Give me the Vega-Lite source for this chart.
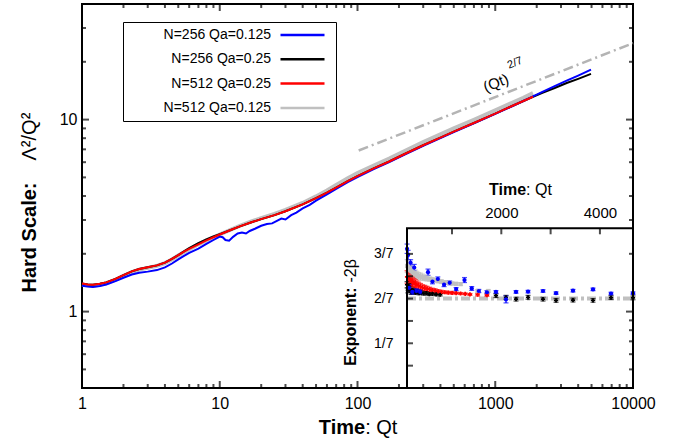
{
  "$schema": "https://vega.github.io/schema/vega-lite/v6.json",
  "width": 551,
  "height": 384,
  "autosize": {"type": "none"},
  "padding": {"left": 82, "top": 4, "right": 43, "bottom": 52},
  "background": "white",
  "config": {
    "font": "Liberation Sans",
    "view": {"stroke": "black", "strokeWidth": 2},
    "axis": {"domain": false, "grid": false, "ticks": false, "labelColor": "black", "titleColor": "black", "zindex": 1, "labelFlush": false, "labelOverlap": false, "labelBound": false}
  },
  "datasets": {
    "xmajor": [{"value": 1}, {"value": 10}, {"value": 100}, {"value": 1000}, {"value": 10000}],
    "xminor": [{"value": 2}, {"value": 3}, {"value": 4}, {"value": 5}, {"value": 6}, {"value": 7}, {"value": 8}, {"value": 9}, {"value": 20}, {"value": 30}, {"value": 40}, {"value": 50}, {"value": 60}, {"value": 70}, {"value": 80}, {"value": 90}, {"value": 200}, {"value": 300}, {"value": 400}, {"value": 500}, {"value": 600}, {"value": 700}, {"value": 800}, {"value": 900}, {"value": 2000}, {"value": 3000}, {"value": 4000}, {"value": 5000}, {"value": 6000}, {"value": 7000}, {"value": 8000}, {"value": 9000}],
    "ymajor": [{"value": 1}, {"value": 10}],
    "yminor": [{"value": 0.5}, {"value": 0.6}, {"value": 0.7}, {"value": 0.8}, {"value": 0.9}, {"value": 2}, {"value": 3}, {"value": 4}, {"value": 5}, {"value": 6}, {"value": 7}, {"value": 8}, {"value": 9}, {"value": 20}, {"value": 30}],
    "insety": [{"value": 0.0714}, {"value": 0.1429}, {"value": 0.2143}, {"value": 0.2857}, {"value": 0.3571}, {"value": 0.4286}],
    "insetx": [{"value": 1000}, {"value": 2000}, {"value": 3000}, {"value": 4000}],
    "main": [
      {"series": "N=512 Qa=0.125", "t": 1, "y": 1.38}, {"series": "N=512 Qa=0.125", "t": 1.1, "y": 1.37}, {"series": "N=512 Qa=0.125", "t": 1.2, "y": 1.365}, {"series": "N=512 Qa=0.125", "t": 1.35, "y": 1.38}, {"series": "N=512 Qa=0.125", "t": 1.5, "y": 1.405}, {"series": "N=512 Qa=0.125", "t": 1.75, "y": 1.465}, {"series": "N=512 Qa=0.125", "t": 2, "y": 1.535}, {"series": "N=512 Qa=0.125", "t": 2.3, "y": 1.605}, {"series": "N=512 Qa=0.125", "t": 2.6, "y": 1.655}, {"series": "N=512 Qa=0.125", "t": 3, "y": 1.69}, {"series": "N=512 Qa=0.125", "t": 3.5, "y": 1.73}, {"series": "N=512 Qa=0.125", "t": 4, "y": 1.79}, {"series": "N=512 Qa=0.125", "t": 4.5, "y": 1.87}, {"series": "N=512 Qa=0.125", "t": 5, "y": 1.96}, {"series": "N=512 Qa=0.125", "t": 5.5, "y": 2.04}, {"series": "N=512 Qa=0.125", "t": 6, "y": 2.11}, {"series": "N=512 Qa=0.125", "t": 7, "y": 2.24}, {"series": "N=512 Qa=0.125", "t": 8, "y": 2.35}, {"series": "N=512 Qa=0.125", "t": 9, "y": 2.44}, {"series": "N=512 Qa=0.125", "t": 10, "y": 2.52}, {"series": "N=512 Qa=0.125", "t": 12, "y": 2.67}, {"series": "N=512 Qa=0.125", "t": 14, "y": 2.8}, {"series": "N=512 Qa=0.125", "t": 17, "y": 2.95}, {"series": "N=512 Qa=0.125", "t": 20, "y": 3.07}, {"series": "N=512 Qa=0.125", "t": 25, "y": 3.23}, {"series": "N=512 Qa=0.125", "t": 30, "y": 3.39}, {"series": "N=512 Qa=0.125", "t": 40, "y": 3.68}, {"series": "N=512 Qa=0.125", "t": 50, "y": 3.98}, {"series": "N=512 Qa=0.125", "t": 60, "y": 4.27}, {"series": "N=512 Qa=0.125", "t": 70, "y": 4.56}, {"series": "N=512 Qa=0.125", "t": 85, "y": 4.95}, {"series": "N=512 Qa=0.125", "t": 100, "y": 5.26}, {"series": "N=512 Qa=0.125", "t": 130, "y": 5.74}, {"series": "N=512 Qa=0.125", "t": 170, "y": 6.26}, {"series": "N=512 Qa=0.125", "t": 220, "y": 6.86}, {"series": "N=512 Qa=0.125", "t": 300, "y": 7.63}, {"series": "N=512 Qa=0.125", "t": 400, "y": 8.37}, {"series": "N=512 Qa=0.125", "t": 500, "y": 9.0}, {"series": "N=512 Qa=0.125", "t": 700, "y": 9.98}, {"series": "N=512 Qa=0.125", "t": 1000, "y": 11.18}, {"series": "N=512 Qa=0.125", "t": 1300, "y": 12.17}, {"series": "N=512 Qa=0.125", "t": 1600, "y": 13.0}, {"series": "N=512 Qa=0.125", "t": 1880, "y": 13.74},

      {"series": "N=256 Qa=0.25", "t": 1, "y": 1.4}, {"series": "N=256 Qa=0.25", "t": 1.1, "y": 1.385}, {"series": "N=256 Qa=0.25", "t": 1.2, "y": 1.38}, {"series": "N=256 Qa=0.25", "t": 1.35, "y": 1.395}, {"series": "N=256 Qa=0.25", "t": 1.5, "y": 1.42}, {"series": "N=256 Qa=0.25", "t": 1.75, "y": 1.48}, {"series": "N=256 Qa=0.25", "t": 2, "y": 1.55}, {"series": "N=256 Qa=0.25", "t": 2.3, "y": 1.62}, {"series": "N=256 Qa=0.25", "t": 2.6, "y": 1.665}, {"series": "N=256 Qa=0.25", "t": 3, "y": 1.7}, {"series": "N=256 Qa=0.25", "t": 3.5, "y": 1.74}, {"series": "N=256 Qa=0.25", "t": 4, "y": 1.8}, {"series": "N=256 Qa=0.25", "t": 4.5, "y": 1.88}, {"series": "N=256 Qa=0.25", "t": 5, "y": 1.97}, {"series": "N=256 Qa=0.25", "t": 5.5, "y": 2.06}, {"series": "N=256 Qa=0.25", "t": 6, "y": 2.14}, {"series": "N=256 Qa=0.25", "t": 7, "y": 2.27}, {"series": "N=256 Qa=0.25", "t": 8, "y": 2.38}, {"series": "N=256 Qa=0.25", "t": 9, "y": 2.46}, {"series": "N=256 Qa=0.25", "t": 10, "y": 2.53}, {"series": "N=256 Qa=0.25", "t": 12, "y": 2.66}, {"series": "N=256 Qa=0.25", "t": 14, "y": 2.78}, {"series": "N=256 Qa=0.25", "t": 17, "y": 2.92}, {"series": "N=256 Qa=0.25", "t": 20, "y": 3.03}, {"series": "N=256 Qa=0.25", "t": 25, "y": 3.18}, {"series": "N=256 Qa=0.25", "t": 30, "y": 3.33}, {"series": "N=256 Qa=0.25", "t": 40, "y": 3.62}, {"series": "N=256 Qa=0.25", "t": 50, "y": 3.9}, {"series": "N=256 Qa=0.25", "t": 60, "y": 4.16}, {"series": "N=256 Qa=0.25", "t": 70, "y": 4.42}, {"series": "N=256 Qa=0.25", "t": 85, "y": 4.78}, {"series": "N=256 Qa=0.25", "t": 100, "y": 5.08}, {"series": "N=256 Qa=0.25", "t": 130, "y": 5.55}, {"series": "N=256 Qa=0.25", "t": 170, "y": 6.05}, {"series": "N=256 Qa=0.25", "t": 220, "y": 6.62}, {"series": "N=256 Qa=0.25", "t": 300, "y": 7.35}, {"series": "N=256 Qa=0.25", "t": 400, "y": 8.05}, {"series": "N=256 Qa=0.25", "t": 500, "y": 8.65}, {"series": "N=256 Qa=0.25", "t": 700, "y": 9.6}, {"series": "N=256 Qa=0.25", "t": 1000, "y": 10.75}, {"series": "N=256 Qa=0.25", "t": 1300, "y": 11.7}, {"series": "N=256 Qa=0.25", "t": 1600, "y": 12.5}, {"series": "N=256 Qa=0.25", "t": 1880, "y": 13.15}, {"series": "N=256 Qa=0.25", "t": 2200, "y": 13.8}, {"series": "N=256 Qa=0.25", "t": 2700, "y": 14.6}, {"series": "N=256 Qa=0.25", "t": 3300, "y": 15.5}, {"series": "N=256 Qa=0.25", "t": 4000, "y": 16.3}, {"series": "N=256 Qa=0.25", "t": 4955, "y": 17.3},

      {"series": "N=256 Qa=0.125", "t": 1, "y": 1.365}, {"series": "N=256 Qa=0.125", "t": 1.1, "y": 1.35}, {"series": "N=256 Qa=0.125", "t": 1.2, "y": 1.345}, {"series": "N=256 Qa=0.125", "t": 1.35, "y": 1.36}, {"series": "N=256 Qa=0.125", "t": 1.5, "y": 1.385}, {"series": "N=256 Qa=0.125", "t": 1.75, "y": 1.44}, {"series": "N=256 Qa=0.125", "t": 2, "y": 1.5}, {"series": "N=256 Qa=0.125", "t": 2.3, "y": 1.56}, {"series": "N=256 Qa=0.125", "t": 2.6, "y": 1.595}, {"series": "N=256 Qa=0.125", "t": 3, "y": 1.615}, {"series": "N=256 Qa=0.125", "t": 3.5, "y": 1.645}, {"series": "N=256 Qa=0.125", "t": 4, "y": 1.7}, {"series": "N=256 Qa=0.125", "t": 4.5, "y": 1.78}, {"series": "N=256 Qa=0.125", "t": 5, "y": 1.87}, {"series": "N=256 Qa=0.125", "t": 5.5, "y": 1.95}, {"series": "N=256 Qa=0.125", "t": 6, "y": 2.02}, {"series": "N=256 Qa=0.125", "t": 7, "y": 2.13}, {"series": "N=256 Qa=0.125", "t": 8, "y": 2.25}, {"series": "N=256 Qa=0.125", "t": 9, "y": 2.36}, {"series": "N=256 Qa=0.125", "t": 10, "y": 2.46}, {"series": "N=256 Qa=0.125", "t": 10.5, "y": 2.44}, {"series": "N=256 Qa=0.125", "t": 11, "y": 2.36}, {"series": "N=256 Qa=0.125", "t": 11.7, "y": 2.34}, {"series": "N=256 Qa=0.125", "t": 12.5, "y": 2.45}, {"series": "N=256 Qa=0.125", "t": 13.5, "y": 2.55}, {"series": "N=256 Qa=0.125", "t": 14.5, "y": 2.58}, {"series": "N=256 Qa=0.125", "t": 15.5, "y": 2.55}, {"series": "N=256 Qa=0.125", "t": 16.5, "y": 2.63}, {"series": "N=256 Qa=0.125", "t": 18, "y": 2.7}, {"series": "N=256 Qa=0.125", "t": 20, "y": 2.8}, {"series": "N=256 Qa=0.125", "t": 22, "y": 2.86}, {"series": "N=256 Qa=0.125", "t": 24, "y": 2.88}, {"series": "N=256 Qa=0.125", "t": 26, "y": 2.97}, {"series": "N=256 Qa=0.125", "t": 28, "y": 3.05}, {"series": "N=256 Qa=0.125", "t": 30, "y": 3.02}, {"series": "N=256 Qa=0.125", "t": 33, "y": 3.18}, {"series": "N=256 Qa=0.125", "t": 36, "y": 3.28}, {"series": "N=256 Qa=0.125", "t": 40, "y": 3.45}, {"series": "N=256 Qa=0.125", "t": 45, "y": 3.6}, {"series": "N=256 Qa=0.125", "t": 50, "y": 3.78}, {"series": "N=256 Qa=0.125", "t": 60, "y": 4.08}, {"series": "N=256 Qa=0.125", "t": 70, "y": 4.36}, {"series": "N=256 Qa=0.125", "t": 85, "y": 4.73}, {"series": "N=256 Qa=0.125", "t": 100, "y": 5.02}, {"series": "N=256 Qa=0.125", "t": 130, "y": 5.5}, {"series": "N=256 Qa=0.125", "t": 170, "y": 6.0}, {"series": "N=256 Qa=0.125", "t": 220, "y": 6.57}, {"series": "N=256 Qa=0.125", "t": 300, "y": 7.3}, {"series": "N=256 Qa=0.125", "t": 400, "y": 8.0}, {"series": "N=256 Qa=0.125", "t": 500, "y": 8.6}, {"series": "N=256 Qa=0.125", "t": 700, "y": 9.55}, {"series": "N=256 Qa=0.125", "t": 1000, "y": 10.7}, {"series": "N=256 Qa=0.125", "t": 1300, "y": 11.67}, {"series": "N=256 Qa=0.125", "t": 1600, "y": 12.5}, {"series": "N=256 Qa=0.125", "t": 1880, "y": 13.2}, {"series": "N=256 Qa=0.125", "t": 2200, "y": 13.95}, {"series": "N=256 Qa=0.125", "t": 2700, "y": 14.95}, {"series": "N=256 Qa=0.125", "t": 3300, "y": 15.95}, {"series": "N=256 Qa=0.125", "t": 4000, "y": 16.95}, {"series": "N=256 Qa=0.125", "t": 4955, "y": 18.2},

      {"series": "N=512 Qa=0.25", "t": 1, "y": 1.4}, {"series": "N=512 Qa=0.25", "t": 1.1, "y": 1.385}, {"series": "N=512 Qa=0.25", "t": 1.2, "y": 1.38}, {"series": "N=512 Qa=0.25", "t": 1.35, "y": 1.395}, {"series": "N=512 Qa=0.25", "t": 1.5, "y": 1.42}, {"series": "N=512 Qa=0.25", "t": 1.75, "y": 1.48}, {"series": "N=512 Qa=0.25", "t": 2, "y": 1.55}, {"series": "N=512 Qa=0.25", "t": 2.3, "y": 1.62}, {"series": "N=512 Qa=0.25", "t": 2.6, "y": 1.665}, {"series": "N=512 Qa=0.25", "t": 3, "y": 1.7}, {"series": "N=512 Qa=0.25", "t": 3.5, "y": 1.74}, {"series": "N=512 Qa=0.25", "t": 4, "y": 1.8}, {"series": "N=512 Qa=0.25", "t": 4.5, "y": 1.88}, {"series": "N=512 Qa=0.25", "t": 5, "y": 1.97}, {"series": "N=512 Qa=0.25", "t": 5.5, "y": 2.05}, {"series": "N=512 Qa=0.25", "t": 6, "y": 2.12}, {"series": "N=512 Qa=0.25", "t": 7, "y": 2.24}, {"series": "N=512 Qa=0.25", "t": 8, "y": 2.35}, {"series": "N=512 Qa=0.25", "t": 9, "y": 2.44}, {"series": "N=512 Qa=0.25", "t": 10, "y": 2.52}, {"series": "N=512 Qa=0.25", "t": 12, "y": 2.66}, {"series": "N=512 Qa=0.25", "t": 14, "y": 2.78}, {"series": "N=512 Qa=0.25", "t": 17, "y": 2.92}, {"series": "N=512 Qa=0.25", "t": 20, "y": 3.03}, {"series": "N=512 Qa=0.25", "t": 25, "y": 3.18}, {"series": "N=512 Qa=0.25", "t": 30, "y": 3.33}, {"series": "N=512 Qa=0.25", "t": 40, "y": 3.62}, {"series": "N=512 Qa=0.25", "t": 50, "y": 3.9}, {"series": "N=512 Qa=0.25", "t": 60, "y": 4.16}, {"series": "N=512 Qa=0.25", "t": 70, "y": 4.42}, {"series": "N=512 Qa=0.25", "t": 85, "y": 4.78}, {"series": "N=512 Qa=0.25", "t": 100, "y": 5.08}, {"series": "N=512 Qa=0.25", "t": 130, "y": 5.55}, {"series": "N=512 Qa=0.25", "t": 170, "y": 6.05}, {"series": "N=512 Qa=0.25", "t": 220, "y": 6.62}, {"series": "N=512 Qa=0.25", "t": 300, "y": 7.35}, {"series": "N=512 Qa=0.25", "t": 400, "y": 8.05}, {"series": "N=512 Qa=0.25", "t": 500, "y": 8.65}, {"series": "N=512 Qa=0.25", "t": 700, "y": 9.6}, {"series": "N=512 Qa=0.25", "t": 1000, "y": 10.75}, {"series": "N=512 Qa=0.25", "t": 1300, "y": 11.7}, {"series": "N=512 Qa=0.25", "t": 1600, "y": 12.5}, {"series": "N=512 Qa=0.25", "t": 1880, "y": 13.15}
    ],
    "inset": [
      {"series": "N=512 Qa=0.125", "t": 229, "v": 0.39, "lo": 0.37, "hi": 0.41}, {"series": "N=512 Qa=0.125", "t": 233, "v": 0.386, "lo": 0.367, "hi": 0.405}, {"series": "N=512 Qa=0.125", "t": 237, "v": 0.382, "lo": 0.364, "hi": 0.4}, {"series": "N=512 Qa=0.125", "t": 241, "v": 0.378, "lo": 0.361, "hi": 0.395}, {"series": "N=512 Qa=0.125", "t": 246, "v": 0.374, "lo": 0.358, "hi": 0.39}, {"series": "N=512 Qa=0.125", "t": 251, "v": 0.37, "lo": 0.355, "hi": 0.385}, {"series": "N=512 Qa=0.125", "t": 257, "v": 0.367, "lo": 0.353, "hi": 0.381}, {"series": "N=512 Qa=0.125", "t": 263, "v": 0.364, "lo": 0.351, "hi": 0.377}, {"series": "N=512 Qa=0.125", "t": 270, "v": 0.361, "lo": 0.349, "hi": 0.373}, {"series": "N=512 Qa=0.125", "t": 278, "v": 0.358, "lo": 0.347, "hi": 0.369}, {"series": "N=512 Qa=0.125", "t": 287, "v": 0.356, "lo": 0.345, "hi": 0.367}, {"series": "N=512 Qa=0.125", "t": 297, "v": 0.354, "lo": 0.344, "hi": 0.364}, {"series": "N=512 Qa=0.125", "t": 308, "v": 0.352, "lo": 0.343, "hi": 0.361}, {"series": "N=512 Qa=0.125", "t": 320, "v": 0.35, "lo": 0.342, "hi": 0.358}, {"series": "N=512 Qa=0.125", "t": 334, "v": 0.348, "lo": 0.341, "hi": 0.355}, {"series": "N=512 Qa=0.125", "t": 349, "v": 0.346, "lo": 0.339, "hi": 0.353}, {"series": "N=512 Qa=0.125", "t": 366, "v": 0.344, "lo": 0.338, "hi": 0.35}, {"series": "N=512 Qa=0.125", "t": 385, "v": 0.342, "lo": 0.336, "hi": 0.348}, {"series": "N=512 Qa=0.125", "t": 406, "v": 0.34, "lo": 0.334, "hi": 0.346}, {"series": "N=512 Qa=0.125", "t": 430, "v": 0.338, "lo": 0.333, "hi": 0.343}, {"series": "N=512 Qa=0.125", "t": 456, "v": 0.336, "lo": 0.331, "hi": 0.341}, {"series": "N=512 Qa=0.125", "t": 486, "v": 0.334, "lo": 0.33, "hi": 0.338}, {"series": "N=512 Qa=0.125", "t": 520, "v": 0.333, "lo": 0.329, "hi": 0.337}, {"series": "N=512 Qa=0.125", "t": 560, "v": 0.332, "lo": 0.328, "hi": 0.336}, {"series": "N=512 Qa=0.125", "t": 745, "v": 0.31, "lo": 0.306, "hi": 0.314}, {"series": "N=512 Qa=0.125", "t": 890, "v": 0.31, "lo": 0.306, "hi": 0.314},

      {"series": "N=512 Qa=0.25", "t": 229, "v": 0.355, "lo": 0.335, "hi": 0.375}, {"series": "N=512 Qa=0.25", "t": 233, "v": 0.352, "lo": 0.333, "hi": 0.371}, {"series": "N=512 Qa=0.25", "t": 237, "v": 0.348, "lo": 0.33, "hi": 0.366}, {"series": "N=512 Qa=0.25", "t": 241, "v": 0.345, "lo": 0.328, "hi": 0.362}, {"series": "N=512 Qa=0.25", "t": 246, "v": 0.342, "lo": 0.326, "hi": 0.358}, {"series": "N=512 Qa=0.25", "t": 251, "v": 0.339, "lo": 0.324, "hi": 0.354}, {"series": "N=512 Qa=0.25", "t": 257, "v": 0.336, "lo": 0.322, "hi": 0.35}, {"series": "N=512 Qa=0.25", "t": 263, "v": 0.333, "lo": 0.32, "hi": 0.346}, {"series": "N=512 Qa=0.25", "t": 270, "v": 0.33, "lo": 0.318, "hi": 0.342}, {"series": "N=512 Qa=0.25", "t": 278, "v": 0.327, "lo": 0.316, "hi": 0.338}, {"series": "N=512 Qa=0.25", "t": 287, "v": 0.324, "lo": 0.314, "hi": 0.334}, {"series": "N=512 Qa=0.25", "t": 297, "v": 0.321, "lo": 0.312, "hi": 0.33}, {"series": "N=512 Qa=0.25", "t": 308, "v": 0.319, "lo": 0.31, "hi": 0.328}, {"series": "N=512 Qa=0.25", "t": 320, "v": 0.317, "lo": 0.309, "hi": 0.325}, {"series": "N=512 Qa=0.25", "t": 334, "v": 0.315, "lo": 0.308, "hi": 0.322}, {"series": "N=512 Qa=0.25", "t": 349, "v": 0.313, "lo": 0.307, "hi": 0.319}, {"series": "N=512 Qa=0.25", "t": 366, "v": 0.311, "lo": 0.305, "hi": 0.317}, {"series": "N=512 Qa=0.25", "t": 385, "v": 0.309, "lo": 0.304, "hi": 0.314}, {"series": "N=512 Qa=0.25", "t": 406, "v": 0.307, "lo": 0.302, "hi": 0.312}, {"series": "N=512 Qa=0.25", "t": 430, "v": 0.306, "lo": 0.302, "hi": 0.31}, {"series": "N=512 Qa=0.25", "t": 456, "v": 0.305, "lo": 0.301, "hi": 0.309}, {"series": "N=512 Qa=0.25", "t": 486, "v": 0.304, "lo": 0.3, "hi": 0.308}, {"series": "N=512 Qa=0.25", "t": 520, "v": 0.303, "lo": 0.3, "hi": 0.306}, {"series": "N=512 Qa=0.25", "t": 560, "v": 0.302, "lo": 0.299, "hi": 0.305}, {"series": "N=512 Qa=0.25", "t": 605, "v": 0.301, "lo": 0.298, "hi": 0.304}, {"series": "N=512 Qa=0.25", "t": 655, "v": 0.299, "lo": 0.296, "hi": 0.302}, {"series": "N=512 Qa=0.25", "t": 745, "v": 0.298, "lo": 0.294, "hi": 0.302}, {"series": "N=512 Qa=0.25", "t": 870, "v": 0.297, "lo": 0.293, "hi": 0.301},

      {"series": "N=256 Qa=0.25", "t": 229, "v": 0.33, "lo": 0.32, "hi": 0.34}, {"series": "N=256 Qa=0.25", "t": 232, "v": 0.312, "lo": 0.304, "hi": 0.32}, {"series": "N=256 Qa=0.25", "t": 236, "v": 0.325, "lo": 0.316, "hi": 0.334}, {"series": "N=256 Qa=0.25", "t": 240, "v": 0.315, "lo": 0.307, "hi": 0.323}, {"series": "N=256 Qa=0.25", "t": 245, "v": 0.306, "lo": 0.299, "hi": 0.313}, {"series": "N=256 Qa=0.25", "t": 250, "v": 0.312, "lo": 0.305, "hi": 0.319}, {"series": "N=256 Qa=0.25", "t": 256, "v": 0.31, "lo": 0.303, "hi": 0.317}, {"series": "N=256 Qa=0.25", "t": 263, "v": 0.305, "lo": 0.299, "hi": 0.311}, {"series": "N=256 Qa=0.25", "t": 271, "v": 0.308, "lo": 0.302, "hi": 0.314}, {"series": "N=256 Qa=0.25", "t": 280, "v": 0.303, "lo": 0.298, "hi": 0.308}, {"series": "N=256 Qa=0.25", "t": 290, "v": 0.305, "lo": 0.3, "hi": 0.31}, {"series": "N=256 Qa=0.25", "t": 302, "v": 0.302, "lo": 0.297, "hi": 0.307}, {"series": "N=256 Qa=0.25", "t": 316, "v": 0.303, "lo": 0.298, "hi": 0.308}, {"series": "N=256 Qa=0.25", "t": 332, "v": 0.3, "lo": 0.296, "hi": 0.304}, {"series": "N=256 Qa=0.25", "t": 350, "v": 0.301, "lo": 0.297, "hi": 0.305}, {"series": "N=256 Qa=0.25", "t": 372, "v": 0.299, "lo": 0.295, "hi": 0.303}, {"series": "N=256 Qa=0.25", "t": 398, "v": 0.298, "lo": 0.294, "hi": 0.302}, {"series": "N=256 Qa=0.25", "t": 1012, "v": 0.295, "lo": 0.289, "hi": 0.301}, {"series": "N=256 Qa=0.25", "t": 1197, "v": 0.29, "lo": 0.284, "hi": 0.296}, {"series": "N=256 Qa=0.25", "t": 1415, "v": 0.284, "lo": 0.278, "hi": 0.29}, {"series": "N=256 Qa=0.25", "t": 1730, "v": 0.29, "lo": 0.284, "hi": 0.296}, {"series": "N=256 Qa=0.25", "t": 2222, "v": 0.284, "lo": 0.278, "hi": 0.29}, {"series": "N=256 Qa=0.25", "t": 2763, "v": 0.28, "lo": 0.274, "hi": 0.286}, {"series": "N=256 Qa=0.25", "t": 3667, "v": 0.281, "lo": 0.275, "hi": 0.287}, {"series": "N=256 Qa=0.25", "t": 5125, "v": 0.28, "lo": 0.274, "hi": 0.286}, {"series": "N=256 Qa=0.25", "t": 6925, "v": 0.289, "lo": 0.283, "hi": 0.295}, {"series": "N=256 Qa=0.25", "t": 10000, "v": 0.288, "lo": 0.282, "hi": 0.294},

      {"series": "N=256 Qa=0.125", "t": 229, "v": 0.445, "lo": 0.43, "hi": 0.46}, {"series": "N=256 Qa=0.125", "t": 233, "v": 0.425, "lo": 0.41, "hi": 0.44}, {"series": "N=256 Qa=0.125", "t": 237, "v": 0.32, "lo": 0.31, "hi": 0.33}, {"series": "N=256 Qa=0.125", "t": 243, "v": 0.4, "lo": 0.39, "hi": 0.41}, {"series": "N=256 Qa=0.125", "t": 250, "v": 0.307, "lo": 0.3, "hi": 0.314}, {"series": "N=256 Qa=0.125", "t": 258, "v": 0.385, "lo": 0.375, "hi": 0.395}, {"series": "N=256 Qa=0.125", "t": 268, "v": 0.31, "lo": 0.303, "hi": 0.317}, {"series": "N=256 Qa=0.125", "t": 285, "v": 0.307, "lo": 0.3, "hi": 0.314}, {"series": "N=256 Qa=0.125", "t": 325, "v": 0.37, "lo": 0.36, "hi": 0.38}, {"series": "N=256 Qa=0.125", "t": 350, "v": 0.34, "lo": 0.333, "hi": 0.347}, {"series": "N=256 Qa=0.125", "t": 383, "v": 0.348, "lo": 0.341, "hi": 0.355}, {"series": "N=256 Qa=0.125", "t": 425, "v": 0.33, "lo": 0.324, "hi": 0.336}, {"series": "N=256 Qa=0.125", "t": 467, "v": 0.336, "lo": 0.33, "hi": 0.342}, {"series": "N=256 Qa=0.125", "t": 520, "v": 0.316, "lo": 0.311, "hi": 0.321}, {"series": "N=256 Qa=0.125", "t": 598, "v": 0.345, "lo": 0.337, "hi": 0.353}, {"series": "N=256 Qa=0.125", "t": 675, "v": 0.318, "lo": 0.312, "hi": 0.324}, {"series": "N=256 Qa=0.125", "t": 760, "v": 0.31, "lo": 0.305, "hi": 0.315}, {"series": "N=256 Qa=0.125", "t": 870, "v": 0.306, "lo": 0.301, "hi": 0.311}, {"series": "N=256 Qa=0.125", "t": 1012, "v": 0.307, "lo": 0.303, "hi": 0.311}, {"series": "N=256 Qa=0.125", "t": 1197, "v": 0.283, "lo": 0.272, "hi": 0.294}, {"series": "N=256 Qa=0.125", "t": 1415, "v": 0.307, "lo": 0.303, "hi": 0.311}, {"series": "N=256 Qa=0.125", "t": 1730, "v": 0.308, "lo": 0.304, "hi": 0.312}, {"series": "N=256 Qa=0.125", "t": 2222, "v": 0.31, "lo": 0.306, "hi": 0.314}, {"series": "N=256 Qa=0.125", "t": 2763, "v": 0.303, "lo": 0.299, "hi": 0.307}, {"series": "N=256 Qa=0.125", "t": 3667, "v": 0.311, "lo": 0.307, "hi": 0.315}, {"series": "N=256 Qa=0.125", "t": 5125, "v": 0.315, "lo": 0.311, "hi": 0.319}, {"series": "N=256 Qa=0.125", "t": 6925, "v": 0.302, "lo": 0.298, "hi": 0.306}, {"series": "N=256 Qa=0.125", "t": 10000, "v": 0.303, "lo": 0.299, "hi": 0.307}
    ]
  },
  "resolve": {"scale": {"x": "independent", "y": "independent"}, "axis": {"x": "independent", "y": "independent"}},
  "layer": [
    {
      "data": {"name": "main"},
      "transform": [{"filter": {"field": "series", "equal": "N=512 Qa=0.125"}}],
      "mark": {"type": "line", "strokeWidth": 4},
      "encoding": {
        "x": {"field": "t", "type": "quantitative", "scale": {"type": "log", "domain": [1, 10000]},
          "axis": {"orient": "bottom", "values": [1, 10, 100, 1000, 10000], "format": "d", "labelFontSize": 16, "labelPadding": 7, "title": "Time", "titleFontSize": 20, "titleFontWeight": "bold", "titleAlign": "right", "titleX": 282.7, "titleY": 45, "titleBaseline": "alphabetic"}},
        "y": {"field": "y", "type": "quantitative", "scale": {"type": "log", "domain": [0.4, 40]},
          "axis": {"orient": "left", "values": [1, 10], "format": "d", "labelFontSize": 16, "labelPadding": 5, "title": "Hard Scale:", "titleFontSize": 20, "titleFontWeight": "bold", "titleAngle": 270, "titleAlign": "right", "titleBaseline": "middle", "titleX": -53, "titleY": 178}},
        "color": {"field": "series", "type": "nominal",
          "scale": {"domain": ["N=256 Qa=0.125", "N=256 Qa=0.25", "N=512 Qa=0.25", "N=512 Qa=0.125"], "range": ["#0000ff", "#000000", "#ff0000", "#c0c0c0"]},
          "legend": {"orient": "none", "legendX": 41, "legendY": 18, "title": null, "symbolType": "stroke", "symbolSize": 1936, "symbolStrokeWidth": 2.5, "symbolOffset": 150, "labelAlign": "right", "labelOffset": -55, "labelFontSize": 14, "labelColor": "black", "labelLimit": 300, "strokeColor": "black", "fillColor": "white", "padding": 6, "rowPadding": 10.3,
            "encode": {"symbols": {"update": {"stroke": {"scale": "color", "field": "value"}, "strokeWidth": {"value": 2.5}, "opacity": {"value": 1}, "y": {"value": 7}}}, "labels": {"update": {"y": {"value": 7}}}}}}
      }
    },
    {
      "data": {"name": "main"},
      "transform": [{"filter": {"field": "series", "equal": "N=256 Qa=0.25"}}],
      "mark": {"type": "line", "strokeWidth": 2},
      "encoding": {
        "x": {"field": "t", "type": "quantitative", "scale": {"type": "log", "domain": [1, 10000]},
          "axis": {"orient": "bottom", "labels": false, "title": ": Qt", "titleFontSize": 20, "titleFontWeight": "normal", "titleAlign": "left", "titleX": 282.7, "titleY": 45, "titleBaseline": "alphabetic"}},
        "y": {"field": "y", "type": "quantitative", "scale": {"type": "log", "domain": [0.4, 40]},
          "axis": {"orient": "left", "labels": false, "title": "Λ²/Q²", "titleFontSize": 20, "titleFontWeight": "normal", "titleAngle": 270, "titleAlign": "left", "titleBaseline": "middle", "titleX": -53, "titleY": 156}},
        "color": {"field": "series", "type": "nominal"}
      }
    },
    {
      "data": {"name": "main"},
      "transform": [{"filter": {"field": "series", "equal": "N=256 Qa=0.125"}}],
      "mark": {"type": "line", "strokeWidth": 2},
      "encoding": {
        "x": {"field": "t", "type": "quantitative", "scale": {"type": "log", "domain": [1, 10000]}, "axis": null},
        "y": {"field": "y", "type": "quantitative", "scale": {"type": "log", "domain": [0.4, 40]}, "axis": null},
        "color": {"field": "series", "type": "nominal"}
      }
    },
    {
      "data": {"name": "main"},
      "transform": [{"filter": {"field": "series", "equal": "N=512 Qa=0.25"}}],
      "mark": {"type": "line", "strokeWidth": 2},
      "encoding": {
        "x": {"field": "t", "type": "quantitative", "scale": {"type": "log", "domain": [1, 10000]}, "axis": null},
        "y": {"field": "y", "type": "quantitative", "scale": {"type": "log", "domain": [0.4, 40]}, "axis": null},
        "color": {"field": "series", "type": "nominal"}
      }
    },
    {
      "data": {"values": [{"t": 102, "y": 6.9}, {"t": 10000, "y": 25.0}]},
      "mark": {"type": "line", "strokeWidth": 2.5, "strokeDash": [10, 4, 2, 4], "color": "#b4b4b4"},
      "encoding": {
        "x": {"field": "t", "type": "quantitative", "scale": {"type": "log", "domain": [1, 10000]}, "axis": null},
        "y": {"field": "y", "type": "quantitative", "scale": {"type": "log", "domain": [0.4, 40]}, "axis": null}
      }
    },
    {
      "data": {"values": [{"t": 1012, "y": 15.5, "label": "(Qt)"}]},
      "mark": {"type": "text", "fontSize": 15, "angle": 338.3, "color": "black"},
      "encoding": {
        "x": {"field": "t", "type": "quantitative", "scale": {"type": "log", "domain": [1, 10000]}, "axis": null},
        "y": {"field": "y", "type": "quantitative", "scale": {"type": "log", "domain": [0.4, 40]}, "axis": null},
        "text": {"field": "label"}
      }
    },
    {
      "data": {"values": [{"t": 1391, "y": 19.7, "label": "2/7"}]},
      "mark": {"type": "text", "fontSize": 11, "angle": 338.3, "color": "black"},
      "encoding": {
        "x": {"field": "t", "type": "quantitative", "scale": {"type": "log", "domain": [1, 10000]}, "axis": null},
        "y": {"field": "y", "type": "quantitative", "scale": {"type": "log", "domain": [0.4, 40]}, "axis": null},
        "text": {"field": "label"}
      }
    },
    {
      "data": {"values": [{"x": 87, "x2": 4671, "v": 0, "v2": 0.5104}]},
      "mark": {"type": "rect", "fill": "white"},
      "encoding": {
        "x": {"field": "x", "type": "quantitative", "scale": {"domain": [-6505, 4671], "zero": false, "nice": false},
          "axis": {"orient": "top", "offset": -224, "values": [1000, 2000, 3000, 4000], "format": "d", "labelExpr": "datum.value == 2000 || datum.value == 4000 ? datum.label : ''", "labelFontSize": 15, "labelPadding": 8, "title": "Time", "titleFontSize": 16, "titleFontWeight": "bold", "titleAlign": "right", "titleX": 443.6, "titleY": -34, "titleBaseline": "alphabetic"}},
        "x2": {"field": "x2"},
        "y": {"field": "v", "type": "quantitative", "scale": {"domain": [0, 1.2272], "zero": false, "nice": false},
          "axis": {"orient": "left", "offset": -325, "values": [0.1429, 0.2857, 0.4286], "labelExpr": "datum.value < 0.2 ? '1/7' : datum.value < 0.3 ? '2/7' : '3/7'", "labelFontSize": 14, "labelPadding": 14, "title": "Exponent:", "titleFontSize": 16, "titleFontWeight": "bold", "titleAngle": 270, "titleAlign": "right", "titleBaseline": "middle", "titleX": -57, "titleY": 283}},
        "y2": {"field": "v2"}
      }
    },
    {
      "data": {"values": [{"x": 87, "v": 0.285714}, {"x": 4671, "v": 0.285714}]},
      "mark": {"type": "line", "strokeWidth": 4, "strokeDash": [9, 3, 3, 3], "color": "#c0c0c0"},
      "encoding": {
        "x": {"field": "x", "type": "quantitative", "scale": {"domain": [-6505, 4671], "zero": false, "nice": false},
          "axis": {"orient": "top", "offset": -224, "labels": false, "title": ": Qt", "titleFontSize": 16, "titleFontWeight": "normal", "titleAlign": "left", "titleX": 443.6, "titleY": -34, "titleBaseline": "alphabetic"}},
        "y": {"field": "v", "type": "quantitative", "scale": {"domain": [0, 1.2272], "zero": false, "nice": false},
          "axis": {"orient": "left", "offset": -325, "labels": false, "title": "-2β", "titleFontSize": 16, "titleFontWeight": "normal", "titleAngle": 270, "titleAlign": "left", "titleBaseline": "middle", "titleX": -57, "titleY": 278}}
      }
    },
    {
      "data": {"name": "inset"},
      "mark": {"type": "rule", "strokeWidth": 1.2},
      "encoding": {
        "x": {"field": "t", "type": "quantitative", "scale": {"type": "log", "domain": [1, 10000]}, "axis": null},
        "y": {"field": "lo", "type": "quantitative", "scale": {"domain": [0, 1.2272], "zero": false, "nice": false}, "axis": null},
        "y2": {"field": "hi"},
        "color": {"field": "series", "type": "nominal", "legend": null}
      }
    },
    {
      "data": {"name": "inset"},
      "mark": {"type": "tick", "orient": "horizontal", "size": 5, "thickness": 1.2},
      "encoding": {
        "x": {"field": "t", "type": "quantitative", "scale": {"type": "log", "domain": [1, 10000]}, "axis": null},
        "y": {"field": "lo", "type": "quantitative", "scale": {"domain": [0, 1.2272], "zero": false, "nice": false}, "axis": null},
        "color": {"field": "series", "type": "nominal", "legend": null}
      }
    },
    {
      "data": {"name": "inset"},
      "mark": {"type": "tick", "orient": "horizontal", "size": 5, "thickness": 1.2},
      "encoding": {
        "x": {"field": "t", "type": "quantitative", "scale": {"type": "log", "domain": [1, 10000]}, "axis": null},
        "y": {"field": "hi", "type": "quantitative", "scale": {"domain": [0, 1.2272], "zero": false, "nice": false}, "axis": null},
        "color": {"field": "series", "type": "nominal", "legend": null}
      }
    },
    {
      "data": {"name": "inset"},
      "transform": [{"filter": {"field": "series", "equal": "N=512 Qa=0.125"}}],
      "mark": {"type": "point", "shape": "square", "filled": true, "size": 18, "opacity": 1},
      "encoding": {
        "x": {"field": "t", "type": "quantitative", "scale": {"type": "log", "domain": [1, 10000]}, "axis": null},
        "y": {"field": "v", "type": "quantitative", "scale": {"domain": [0, 1.2272], "zero": false, "nice": false}, "axis": null},
        "color": {"field": "series", "type": "nominal", "legend": null}
      }
    },
    {
      "data": {"name": "inset"},
      "transform": [{"filter": {"field": "series", "oneOf": ["N=512 Qa=0.25", "N=256 Qa=0.25"]}}],
      "mark": {"type": "point", "shape": "cross", "filled": true, "size": 18, "opacity": 1},
      "encoding": {
        "x": {"field": "t", "type": "quantitative", "scale": {"type": "log", "domain": [1, 10000]}, "axis": null},
        "y": {"field": "v", "type": "quantitative", "scale": {"domain": [0, 1.2272], "zero": false, "nice": false}, "axis": null},
        "color": {"field": "series", "type": "nominal", "legend": null}
      }
    },
    {
      "data": {"name": "inset"},
      "transform": [{"filter": {"field": "series", "equal": "N=256 Qa=0.125"}}],
      "mark": {"type": "point", "shape": "circle", "filled": true, "size": 18, "opacity": 1},
      "encoding": {
        "x": {"field": "t", "type": "quantitative", "scale": {"type": "log", "domain": [1, 10000]}, "axis": null},
        "y": {"field": "v", "type": "quantitative", "scale": {"domain": [0, 1.2272], "zero": false, "nice": false}, "axis": null},
        "color": {"field": "series", "type": "nominal", "legend": null}
      }
    },
    {
      "data": {"values": [{"x": 87, "x2": 4671, "v": 0, "v2": 0.5104}]},
      "mark": {"type": "rect", "fill": null, "fillOpacity": 0, "stroke": "black", "strokeWidth": 2},
      "encoding": {
        "x": {"field": "x", "type": "quantitative", "scale": {"domain": [-6505, 4671], "zero": false, "nice": false}, "axis": null},
        "x2": {"field": "x2"},
        "y": {"field": "v", "type": "quantitative", "scale": {"domain": [0, 1.2272], "zero": false, "nice": false}, "axis": null},
        "y2": {"field": "v2"}
      }
    },
    {
      "data": {"name": "insety"},
      "mark": {"type": "tick", "orient": "horizontal", "size": 6, "thickness": 2, "color": "black", "xOffset": 3},
      "encoding": {
        "x": {"datum": 228.8, "type": "quantitative", "scale": {"type": "log", "domain": [1, 10000]}, "axis": null},
        "y": {"field": "value", "type": "quantitative", "scale": {"domain": [0, 1.2272], "zero": false, "nice": false}, "axis": null}
      }
    },
    {
      "data": {"name": "insetx"},
      "mark": {"type": "tick", "orient": "vertical", "size": 6, "thickness": 2, "color": "black", "yOffset": 3},
      "encoding": {
        "x": {"field": "value", "type": "quantitative", "scale": {"domain": [-6505, 4671], "zero": false, "nice": false}, "axis": null},
        "y": {"datum": 0.5104, "type": "quantitative", "scale": {"domain": [0, 1.2272], "zero": false, "nice": false}, "axis": null}
      }
    },
    {
      "data": {"name": "xmajor"},
      "mark": {"type": "tick", "orient": "vertical", "size": 7, "thickness": 2, "color": "black", "yOffset": -3.5},
      "encoding": {
        "x": {"field": "value", "type": "quantitative", "scale": {"type": "log", "domain": [1, 10000]}, "axis": null},
        "y": {"datum": 0.4, "type": "quantitative", "scale": {"type": "log", "domain": [0.4, 40]}, "axis": null}
      }
    },
    {
      "data": {"name": "xminor"},
      "mark": {"type": "tick", "orient": "vertical", "size": 4, "thickness": 2, "color": "black", "yOffset": -2},
      "encoding": {
        "x": {"field": "value", "type": "quantitative", "scale": {"type": "log", "domain": [1, 10000]}, "axis": null},
        "y": {"datum": 0.4, "type": "quantitative", "scale": {"type": "log", "domain": [0.4, 40]}, "axis": null}
      }
    },
    {
      "data": {"name": "xmajor"},
      "mark": {"type": "tick", "orient": "vertical", "size": 7, "thickness": 2, "color": "black", "yOffset": 3.5},
      "encoding": {
        "x": {"field": "value", "type": "quantitative", "scale": {"type": "log", "domain": [1, 10000]}, "axis": null},
        "y": {"datum": 40, "type": "quantitative", "scale": {"type": "log", "domain": [0.4, 40]}, "axis": null}
      }
    },
    {
      "data": {"name": "xminor"},
      "mark": {"type": "tick", "orient": "vertical", "size": 4, "thickness": 2, "color": "black", "yOffset": 2},
      "encoding": {
        "x": {"field": "value", "type": "quantitative", "scale": {"type": "log", "domain": [1, 10000]}, "axis": null},
        "y": {"datum": 40, "type": "quantitative", "scale": {"type": "log", "domain": [0.4, 40]}, "axis": null}
      }
    },
    {
      "data": {"name": "ymajor"},
      "mark": {"type": "tick", "orient": "horizontal", "size": 7, "thickness": 2, "color": "black", "xOffset": 3.5},
      "encoding": {
        "x": {"datum": 1, "type": "quantitative", "scale": {"type": "log", "domain": [1, 10000]}, "axis": null},
        "y": {"field": "value", "type": "quantitative", "scale": {"type": "log", "domain": [0.4, 40]}, "axis": null}
      }
    },
    {
      "data": {"name": "yminor"},
      "mark": {"type": "tick", "orient": "horizontal", "size": 4, "thickness": 2, "color": "black", "xOffset": 2},
      "encoding": {
        "x": {"datum": 1, "type": "quantitative", "scale": {"type": "log", "domain": [1, 10000]}, "axis": null},
        "y": {"field": "value", "type": "quantitative", "scale": {"type": "log", "domain": [0.4, 40]}, "axis": null}
      }
    },
    {
      "data": {"name": "ymajor"},
      "mark": {"type": "tick", "orient": "horizontal", "size": 7, "thickness": 2, "color": "black", "xOffset": -3.5},
      "encoding": {
        "x": {"datum": 10000, "type": "quantitative", "scale": {"type": "log", "domain": [1, 10000]}, "axis": null},
        "y": {"field": "value", "type": "quantitative", "scale": {"type": "log", "domain": [0.4, 40]}, "axis": null}
      }
    },
    {
      "data": {"name": "yminor"},
      "mark": {"type": "tick", "orient": "horizontal", "size": 4, "thickness": 2, "color": "black", "xOffset": -2},
      "encoding": {
        "x": {"datum": 10000, "type": "quantitative", "scale": {"type": "log", "domain": [1, 10000]}, "axis": null},
        "y": {"field": "value", "type": "quantitative", "scale": {"type": "log", "domain": [0.4, 40]}, "axis": null}
      }
    }
  ]
}
